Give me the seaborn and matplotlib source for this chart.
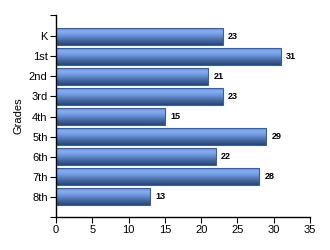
import matplotlib
matplotlib.use("Agg")
import matplotlib.pyplot as plt
import seaborn as sns
import numpy as np
import pandas as pd
from matplotlib.colors import LinearSegmentedColormap

grades = ["K", "1st", "2nd", "3rd", "4th", "5th", "6th", "7th", "8th"]
counts = [23, 31, 21, 23, 15, 29, 22, 28, 13]
xticks = [0, 5, 10, 15, 20, 25, 30, 35]

sns.set_theme(style="white")
plt.rcParams['font.family'] = ['Liberation Sans', 'DejaVu Sans']

df = pd.DataFrame({"Grade": grades, "Count": counts})

fig = plt.figure(figsize=(3.3, 2.5), dpi=100)
ax = fig.add_axes([56/330, 1-217/250, 254/330, 202/250])

sns.barplot(data=df, y="Grade", x="Count", orient="h", ax=ax, width=0.85,
            color="#5b84cc", edgecolor="#3d5f92", linewidth=0.8, saturation=1)

cmap = LinearSegmentedColormap.from_list(
    "cyl", [(0.0, "#5f8ad6"), (0.25, "#86aef5"), (0.45, "#6e96dc"),
            (0.75, "#44679f"), (1.0, "#2b4673")])
grad = np.linspace(0, 1, 64).reshape(-1, 1)
for p in ax.patches:
    x0, y0 = p.get_x(), p.get_y()
    w, h = p.get_width(), p.get_height()
    im = ax.imshow(grad, cmap=cmap, aspect="auto",
                   extent=[x0, x0 + w, y0 + h, y0], origin="upper", zorder=p.get_zorder())
    im.set_clip_path(p)
    p.set_facecolor("none")
    p.set_zorder(p.get_zorder() + 0.1)

for i, v in enumerate(counts):
    ax.text(v + 0.7, i, str(v), va="center", ha="left", fontsize=6.5,
            fontweight="bold", color="black")

ax.set_xlim(0, 35)
ax.set_ylim(9.0, -1.05)
ax.set_xticks(xticks)
ax.set_xticklabels([str(t) for t in xticks], fontsize=8)
ax.set_yticks(list(range(len(grades))))
ax.set_yticklabels(grades, fontsize=8)
ax.set_yticks([-1.05, 9.0], minor=True)
ax.tick_params(axis="y", which="minor", length=4, width=0.8, color="black", left=True)
ax.tick_params(axis="both", which="major", length=4, width=0.8, color="black",
               bottom=True, left=True, pad=2, labelcolor="black")
ax.set_xlabel("")
ax.set_ylabel("Grades", fontsize=8, color="black", labelpad=4)
for s in ["top", "right"]:
    ax.spines[s].set_visible(False)
for s in ["left", "bottom"]:
    ax.spines[s].set_color("black")
    ax.spines[s].set_linewidth(1.0)

fig.savefig("out.png", dpi=100)
